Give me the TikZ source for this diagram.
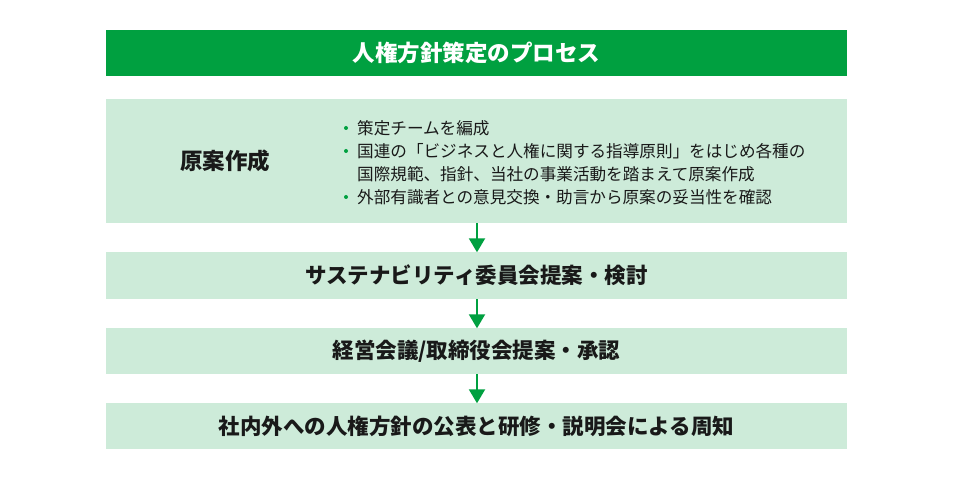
\documentclass[tikz,border=0pt]{standalone}
\usepackage{fontspec}
\setmainfont{Noto Sans CJK JP}
\usetikzlibrary{arrows.meta}
\definecolor{hdgreen}{HTML}{00A040}
\definecolor{ltgreen}{HTML}{CDEBD9}
\tikzset{
  box/.style={fill=ltgreen, draw=none, minimum width=741pt, inner sep=0pt, font=\fontsize{21.5}{24}\selectfont\bfseries, text=black!90},
  hdr/.style={fill=hdgreen, draw=none, minimum width=741pt, minimum height=46pt, inner sep=0pt, font=\fontsize{22.5}{26}\selectfont\bfseries, text=white},
  bl/.style={anchor=west, inner sep=0pt, font=\fontsize{16.6}{20}\selectfont, text=black!90},
  dot/.style={circle, fill=hdgreen, inner sep=0pt, minimum size=4pt},
  flow/.style={draw=hdgreen, line width=2pt, -{Triangle[width=16pt,length=14pt]}, shorten >=-0.5pt}
}
\begin{document}
\begin{tikzpicture}[x=1pt,y=-1pt]
\useasboundingbox (0,0) rectangle (954,478);
\node[hdr] (h) at (476.5,53) {人権方針策定のプロセス};
\node[box, minimum height=124pt] (b1) at (476.5,161) {};
\node[inner sep=0pt, font=\fontsize{22.5}{24}\selectfont\bfseries, text=black!90] (t1) at (225,161) {原案作成};
\node[dot] (d1) at (346,128) {};
\node[bl] (l1) at (357,128) {策定チームを編成};
\node[dot] (d2) at (346,151) {};
\node[bl] (l2) at (357,151) {国連の「ビジネスと人権に関する指導原則」をはじめ各種の};
\node[bl] (l3) at (357,174) {国際規範、指針、当社の事業活動を踏まえて原案作成};
\node[dot] (d4) at (346,197) {};
\node[bl] (l4) at (357,197) {外部有識者との意見交換・助言から原案の妥当性を確認};
\node[box, minimum height=47pt] (b2) at (476.5,275.5) {サステナビリティ委員会提案・検討};
\node[box, minimum height=46pt] (b3) at (476.5,351) {経営会議/取締役会提案・承認};
\node[box, minimum height=46pt] (b4) at (476.5,426) {社内外への人権方針の公表と研修・説明会による周知};
\draw[flow] (b1.south -| 477,0) -- (b2.north -| 477,0);
\draw[flow] (b2.south -| 477,0) -- (b3.north -| 477,0);
\draw[flow] (b3.south -| 477,0) -- (b4.north -| 477,0);
\end{tikzpicture}
\end{document}
